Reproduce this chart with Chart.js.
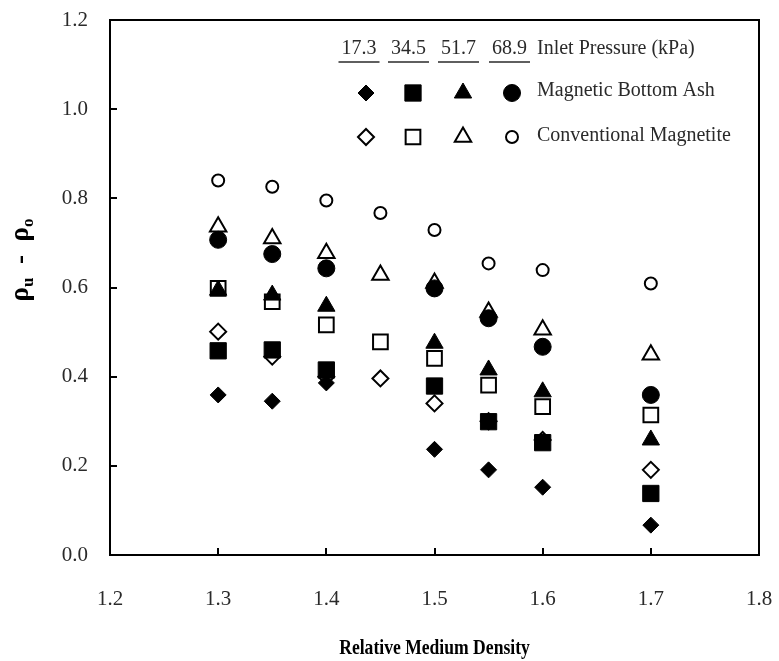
<!DOCTYPE html>
<html>
<head>
<meta charset="utf-8">
<script src="https://cdn.jsdelivr.net/npm/chart.js@4.4.1/dist/chart.umd.min.js"></script>
<style>
html,body{margin:0;padding:0;background:#fff;}
#wrap{width:779px;height:661px;}
</style>
</head>
<body>
<div id="wrap"><canvas id="c" width="779" height="661"></canvas></div>
<script>
// ---- data ----
const densityBA = [1.3, 1.35, 1.4, 1.5, 1.55, 1.6, 1.7];
const densityCM = [1.3, 1.35, 1.4, 1.45, 1.5, 1.55, 1.6, 1.7];
const pressures = ['17.3', '34.5', '51.7', '68.9'];
const ba173 = [0.359, 0.345, 0.386, 0.237, 0.191, 0.152, 0.067];
const ba345 = [0.458, 0.460, 0.415, 0.379, 0.299, 0.252, 0.138];
const ba517 = [0.594, 0.583, 0.558, 0.475, 0.415, 0.366, 0.258];
const ba689 = [0.707, 0.675, 0.643, 0.598, 0.531, 0.467, 0.359];
const cm173 = [0.501, 0.445, 0.400, 0.396, 0.340, 0.300, 0.258, 0.191];
const cm345 = [0.598, 0.568, 0.516, 0.478, 0.441, 0.381, 0.333, 0.314];
const cm517 = [0.736, 0.710, 0.677, 0.628, 0.610, 0.545, 0.505, 0.449];
const cm689 = [0.840, 0.826, 0.795, 0.767, 0.729, 0.654, 0.639, 0.609];
const xTicks = [1.2, 1.3, 1.4, 1.5, 1.6, 1.7, 1.8];
const yTicks = [0.0, 0.2, 0.4, 0.6, 0.8, 1.0, 1.2];
const seriesNames = ['Magnetic Bottom Ash', 'Conventional Magnetite'];
const legendTitle = 'Inlet Pressure (kPa)';
const xTitle = 'Relative Medium Density';

const SERIF = '"Liberation Serif", "DejaVu Serif", serif';
const TXT = '#2a2a2a';

function pts(xs, ys) { return xs.map((x, i) => ({x: x, y: ys[i]})); }

const shapes = ['rectRot', 'rect', 'triangle', 'circle'];
const filledRadius = [8, 11.5, 10, 8.5];
const openRadius = [8, 10.4, 9.5, 6];

function filledDs(label, data, i) {
  return {label, data: pts(densityBA, data), pointStyle: shapes[i], pointRadius: filledRadius[i],
    pointHoverRadius: filledRadius[i], backgroundColor: '#000', borderColor: '#000', borderWidth: 1, showLine: false};
}
function openDs(label, data, i) {
  return {label, data: pts(densityCM, data), pointStyle: shapes[i], pointRadius: openRadius[i],
    pointHoverRadius: openRadius[i], backgroundColor: '#fff', borderColor: '#000', borderWidth: 2, showLine: false};
}

// first dataset draws on top -> filled markers first
const datasets = [
  filledDs('MBA 17.3', ba173, 0), filledDs('MBA 34.5', ba345, 1),
  filledDs('MBA 51.7', ba517, 2), filledDs('MBA 68.9', ba689, 3),
  openDs('CM 17.3', cm173, 0), openDs('CM 34.5', cm345, 1),
  openDs('CM 51.7', cm517, 2), openDs('CM 68.9', cm689, 3)
];

const framePlugin = {
  id: 'frame',
  beforeDatasetsDraw(chart) {
    const {ctx, chartArea: a, scales: {x, y}} = chart;
    ctx.save();
    ctx.strokeStyle = '#000';
    ctx.lineWidth = 2;
    ctx.strokeRect(a.left, a.top, a.right - a.left, a.bottom - a.top);
    ctx.beginPath();
    xTicks.slice(1, -1).forEach(v => {
      const px = Math.round(x.getPixelForValue(v));
      ctx.moveTo(px, a.bottom); ctx.lineTo(px, a.bottom - 7);
    });
    yTicks.slice(1, -1).forEach(v => {
      const py = Math.round(y.getPixelForValue(v));
      ctx.moveTo(a.left, py); ctx.lineTo(a.left + 7, py);
    });
    ctx.stroke();
    ctx.restore();
  },
  afterDraw(chart) {
    const {ctx, chartArea: a} = chart;
    // y axis title: rho_u - rho_o
    ctx.save();
    const big = 'bold 27px ' + SERIF, small = 'bold 17px ' + SERIF;
    const parts = [['ρ', big, 0], ['u', small, 5], ['  -  ', big, 0], ['ρ', big, 0], ['o', small, 5]];
    let total = 0;
    parts.forEach(p => { ctx.font = p[1]; total += ctx.measureText(p[0]).width; });
    ctx.translate(28, 260);
    ctx.rotate(-Math.PI / 2);
    ctx.fillStyle = '#000';
    ctx.textBaseline = 'alphabetic';
    ctx.textAlign = 'left';
    let cx = -total / 2;
    parts.forEach(p => { ctx.font = p[1]; ctx.fillText(p[0], cx, p[2]); cx += ctx.measureText(p[0]).width; });
    ctx.restore();

    // x axis title (condensed bold serif)
    ctx.save();
    ctx.font = 'bold 22px ' + SERIF;
    ctx.fillStyle = '#000';
    ctx.textAlign = 'center';
    ctx.textBaseline = 'middle';
    ctx.translate((a.left + a.right) / 2, 648);
    ctx.scale(0.8, 1);
    ctx.fillText(xTitle, 0, 0);
    ctx.restore();

    // legend
    ctx.save();
    ctx.font = '20px ' + SERIF;
    ctx.fillStyle = TXT;
    ctx.strokeStyle = TXT;
    ctx.textBaseline = 'middle';
    const colX = [366, 413, 463, 512];
    const headX = [359, 408.5, 458.5, 509.5];
    const headY = 49;
    ctx.textAlign = 'center';
    pressures.forEach((p, i) => {
      ctx.fillText(p, headX[i], headY);
      const w = ctx.measureText(p).width;
      ctx.lineWidth = 1.4;
      ctx.beginPath();
      ctx.moveTo(headX[i] - w / 2 - 3, headY + 13);
      ctx.lineTo(headX[i] + w / 2 + 3, headY + 13);
      ctx.stroke();
    });
    ctx.textAlign = 'left';
    ctx.fillText(legendTitle, 537, headY);
    ctx.fillText(seriesNames[0], 537, 91);
    ctx.fillText(seriesNames[1], 537, 136);
    const drawP = Chart.helpers && Chart.helpers.drawPoint;
    shapes.forEach((s, i) => {
      if (drawP) {
        ctx.fillStyle = '#000'; ctx.strokeStyle = '#000'; ctx.lineWidth = 1;
        drawP(ctx, {pointStyle: s, radius: filledRadius[i], borderWidth: 1, rotation: 0}, colX[i], 93);
        ctx.fillStyle = '#fff'; ctx.strokeStyle = '#000'; ctx.lineWidth = 2;
        drawP(ctx, {pointStyle: s, radius: openRadius[i], borderWidth: 2, rotation: 0}, colX[i], 137);
      }
    });
    ctx.restore();
  }
};

new Chart(document.getElementById('c'), {
  type: 'scatter',
  data: {datasets},
  options: {
    responsive: false,
    animation: false,
    events: [],
    layout: {padding: {left: 0, right: 20, top: 20, bottom: 0}},
    plugins: {legend: {display: false}, tooltip: {enabled: false}},
    scales: {
      x: {
        type: 'linear', min: 1.2, max: 1.8,
        afterBuildTicks: s => { s.ticks = xTicks.map(v => ({value: v})); },
        afterFit: s => { s.height = 106; s.paddingLeft = 0; s.paddingRight = 0; },
        grid: {display: false, drawTicks: false},
        border: {display: false},
        ticks: {color: TXT, padding: 32, maxRotation: 0, font: {family: SERIF, size: 21},
          callback: v => Number(v).toFixed(1)},
        title: {display: false}
      },
      y: {
        type: 'linear', min: 0, max: 1.2,
        afterBuildTicks: s => { s.ticks = yTicks.map(v => ({value: v})); },
        afterFit: s => { s.width = 110; s.paddingTop = 0; s.paddingBottom = 0; },
        grid: {display: false, drawTicks: false},
        border: {display: false},
        ticks: {color: TXT, padding: 22, font: {family: SERIF, size: 21},
          callback: v => Number(v).toFixed(1)}
      }
    }
  },
  plugins: [framePlugin]
});
</script>
</body>
</html>
